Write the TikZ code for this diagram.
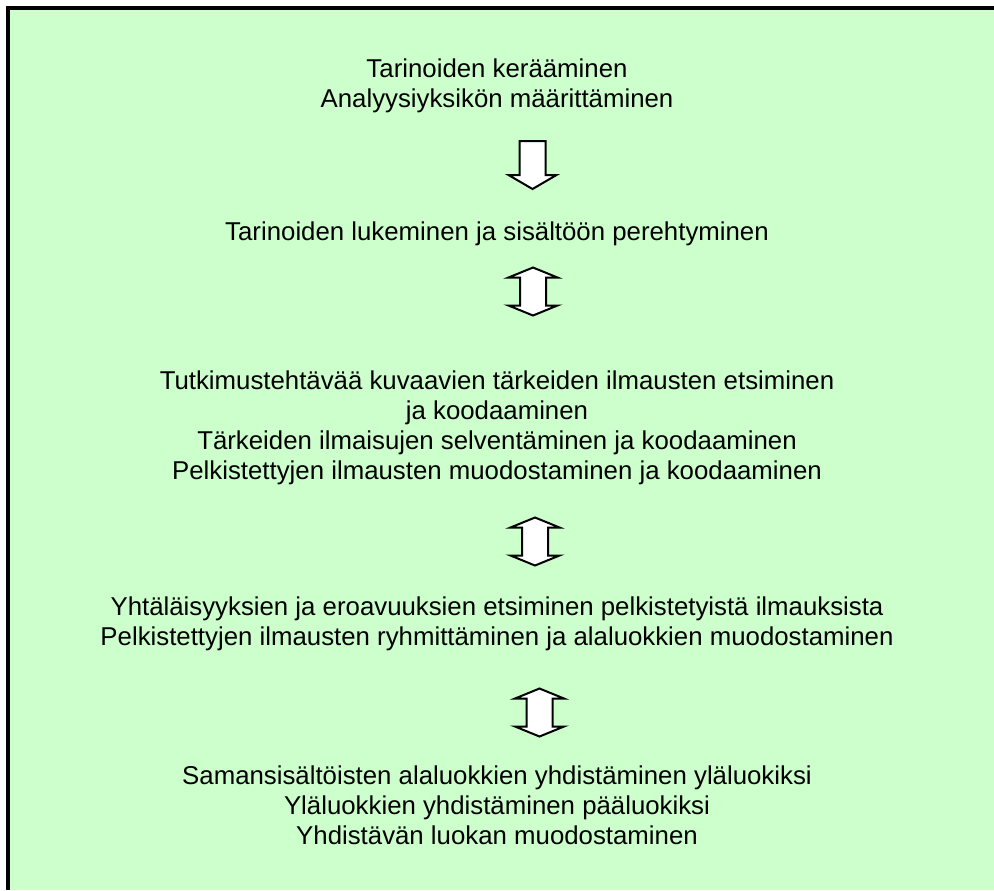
\documentclass[tikz,border=0pt]{standalone}
\usepackage{fontspec}
\setmainfont{Liberation Sans}
\usepackage{tikz}
\usetikzlibrary{positioning,calc}
\definecolor{taustavihrea}{RGB}{204,255,204}

\begin{document}
\begin{tikzpicture}[x=0.5pt,y=-0.5pt]
	\tikzstyle{vaihe}=[align=center,inner sep=0pt,font=\fontsize{12.9}{15}\selectfont]
	\tikzstyle{nuoli}=[draw,fill=white,line width=1pt,line join=miter]
	\tikzset{yksinuoli/.pic={\path[nuoli] (-13,-24) -- (13,-24) -- (13,10) -- (24,10) -- (0,24) -- (-24,10) -- (-13,10) -- cycle;}}
	\tikzset{kaksinuoli/.pic={\path[nuoli] (0,-24) -- (24.5,-14) -- (13,-14) -- (13,14) -- (24.5,14) -- (0,24) -- (-24.5,14) -- (-13,14) -- (-13,-14) -- (-24.5,-14) -- cycle;}}
	\useasboundingbox (0,0) rectangle (994,890);
	\fill[taustavihrea] (8,8) rectangle (994,890);
	\draw[line width=2pt,miter limit=10] (8,890) -- (8,8) -- (994,8);

	\node[vaihe](A) at (497,86){Tarinoiden kerääminen\\Analyysiyksikön määrittäminen};
	\node[vaihe](B) at (497,234){Tarinoiden lukeminen ja sisältöön perehtyminen};
	\node[vaihe](C) at (497,428){Tutkimustehtävää kuvaavien tärkeiden ilmausten etsiminen\\ja koodaaminen\\Tärkeiden ilmaisujen selventäminen ja koodaaminen\\Pelkistettyjen ilmausten muodostaminen ja koodaaminen};
	\node[vaihe](D) at (497,624){Yhtäläisyyksien ja eroavuuksien etsiminen pelkistetyistä ilmauksista\\Pelkistettyjen ilmausten ryhmittäminen ja alaluokkien muodostaminen};
	\node[vaihe](E) at (497,805){Samansisältöisten alaluokkien yhdistäminen yläluokiksi\\Yläluokkien yhdistäminen pääluokiksi\\Yhdistävän luokan muodostaminen};

	\pic (AB) at (532.5,165) {yksinuoli};
	\pic (BC) at (533,291.5) {kaksinuoli};
	\pic (CD) at (535,541.5) {kaksinuoli};
	\pic (DE) at (539.5,712.5) {kaksinuoli};
\end{tikzpicture}
\end{document}
